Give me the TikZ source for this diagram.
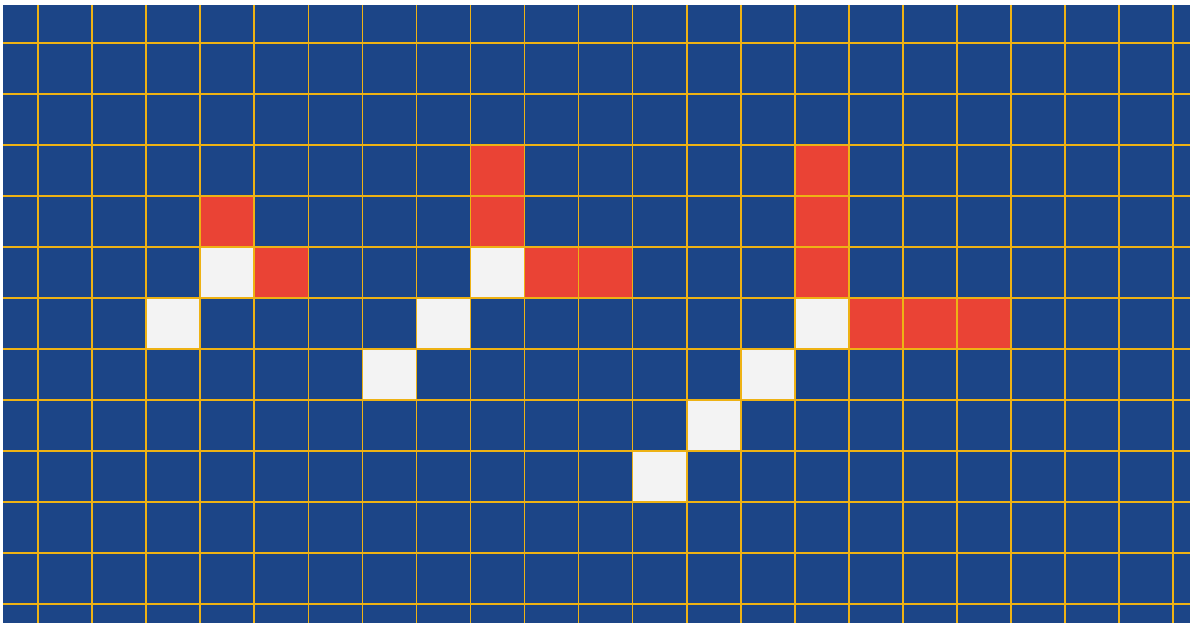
\documentclass[tikz,border=0pt]{standalone}
\definecolor{bgblue}{RGB}{28,69,135}
\definecolor{gridgold}{RGB}{238,178,20}
\definecolor{cellred}{RGB}{234,67,53}
\definecolor{cellwhite}{RGB}{243,243,243}
\tikzset{
  gridline/.style={draw=gridgold,line width=1.6pt},
  redcell/.style={fill=cellred},
  whitecell/.style={fill=cellwhite}
}
\begin{document}
\begin{tikzpicture}[x=1pt,y=-1pt]
\useasboundingbox (0,0) rectangle (1190,623);
\fill[white] (0,0) rectangle (1190,623);
\fill[bgblue] (3,5) rectangle (1190,623);
\foreach \c/\r in {3/3,4/4,8/2,8/3,9/4,10/4,14/2,14/3,14/4,15/5,16/5,17/5}
  \fill[redcell] ({38+54.06*\c},{43.3+50.95*\r}) rectangle +(54.06,50.95);
\foreach \c/\r in {3/4,2/5,6/6,7/5,8/4,11/8,12/7,13/6,14/5}
  \fill[whitecell] ({38+54.06*\c},{43.3+50.95*\r}) rectangle +(54.06,50.95);
\foreach \k in {0,...,21}
  \draw[gridline] ({38+54.06*\k},5) -- ({38+54.06*\k},623);
\foreach \j in {0,...,11}
  \draw[gridline] (3,{43.3+50.95*\j}) -- (1190,{43.3+50.95*\j});
\end{tikzpicture}
\end{document}
